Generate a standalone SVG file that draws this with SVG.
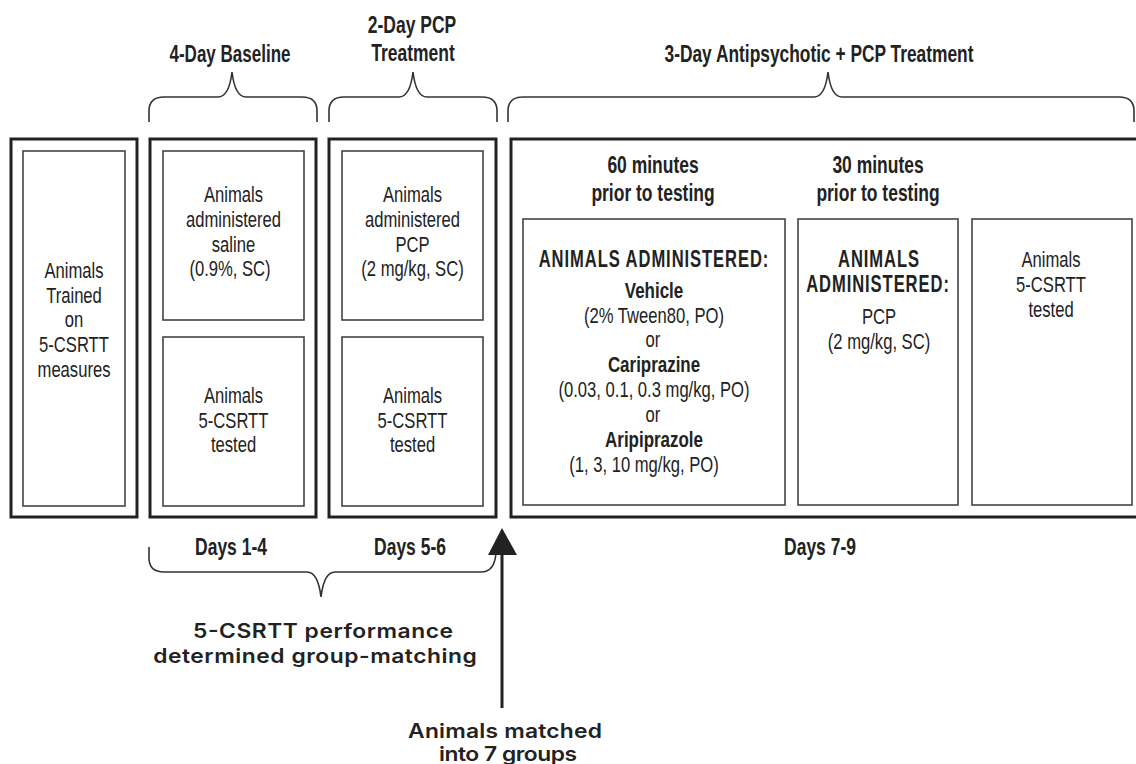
<svg xmlns="http://www.w3.org/2000/svg" width="1136" height="764" viewBox="0 0 1136 764">
<style>
.bg{fill:#fff}
.outer{fill:none;stroke:#222;stroke-width:3}
.inner{fill:none;stroke:#444;stroke-width:1.6}
.brace{fill:none;stroke:#333;stroke-width:1.6}
.t{font-family:"Liberation Sans",Arial,sans-serif;font-size:22px;fill:#222;text-anchor:middle}
.b{font-weight:bold}
.h{font-family:"Liberation Sans",Arial,sans-serif;font-size:23px;font-weight:bold;fill:#222;text-anchor:middle}
.cap{font-family:"Liberation Sans",Arial,sans-serif;font-size:23px;font-weight:bold;fill:#222;text-anchor:middle;letter-spacing:1.3px}
.g{font-family:Inter,"Open Sans","Noto Sans",sans-serif;font-size:20px;font-weight:600;fill:#222;text-anchor:middle}
.arrow{stroke:#222;stroke-width:3}
</style>
<rect class="bg" x="0" y="0" width="1136" height="764"/>

<g id="headers">
<text class="h" transform="translate(230,62) scale(0.74,1)">4-Day Baseline</text>
<text class="h" transform="translate(412,33) scale(0.76,1)">2-Day PCP</text>
<text class="h" transform="translate(413,61) scale(0.76,1)">Treatment</text>
<text class="h" transform="translate(819,62) scale(0.755,1)">3-Day Antipsychotic + PCP Treatment</text>
</g>

<g id="braces">
<path class="brace" d="M149,122 V111 Q149,97 164,97 H218 Q229,97 232,72 Q235,97 246,97 H302 Q317,97 317,111 V122"/>
<path class="brace" d="M329,122 V111 Q329,97 344,97 H399 Q410,97 413,72 Q416,97 427,97 H482 Q497,97 497,111 V122"/>
<path class="brace" d="M508,122 V111 Q508,97 523,97 H814 Q825,97 828,72 Q831,97 842,97 H1119 Q1134,97 1134,111 V122"/>
<path class="brace" d="M149,547 V558 Q149,572 164,572 H307 Q318,572 321,597 Q324,572 335,572 H481 Q495,572 496,552"/>
</g>

<g id="n-training">
<rect class="outer" x="11" y="139" width="126" height="378"/>
<rect class="inner" x="23" y="151" width="102" height="355"/>
<text class="t" transform="translate(74,278) scale(0.755,1)">Animals</text>
<text class="t" transform="translate(74,303) scale(0.755,1)">Trained</text>
<text class="t" transform="translate(74,327) scale(0.755,1)">on</text>
<text class="t" transform="translate(74,352) scale(0.755,1)">5-CSRTT</text>
<text class="t" transform="translate(74,377) scale(0.755,1)">measures</text>
</g>

<g id="n-baseline">
<rect class="outer" x="150" y="139" width="166" height="378"/>
<rect class="inner" x="163" y="151" width="141" height="169"/>
<text class="t" transform="translate(233.5,202) scale(0.755,1)">Animals</text>
<text class="t" transform="translate(233.5,227) scale(0.755,1)">administered</text>
<text class="t" transform="translate(233.5,252) scale(0.755,1)">saline</text>
<text class="t" transform="translate(230,276) scale(0.755,1)">(0.9%, SC)</text>
<rect class="inner" x="163" y="337" width="141" height="169"/>
<text class="t" transform="translate(233.5,403) scale(0.755,1)">Animals</text>
<text class="t" transform="translate(233.5,428) scale(0.755,1)">5-CSRTT</text>
<text class="t" transform="translate(233.5,452) scale(0.755,1)">tested</text>
</g>

<g id="n-pcp">
<rect class="outer" x="329" y="139" width="167" height="378"/>
<rect class="inner" x="342" y="151" width="141" height="169"/>
<text class="t" transform="translate(412.5,202) scale(0.755,1)">Animals</text>
<text class="t" transform="translate(412.5,227) scale(0.755,1)">administered</text>
<text class="t" transform="translate(412.5,252) scale(0.755,1)">PCP</text>
<text class="t" transform="translate(412.5,276) scale(0.755,1)">(2 mg/kg, SC)</text>
<rect class="inner" x="342" y="337" width="141" height="169"/>
<text class="t" transform="translate(412.5,403) scale(0.755,1)">Animals</text>
<text class="t" transform="translate(412.5,428) scale(0.755,1)">5-CSRTT</text>
<text class="t" transform="translate(412.5,452) scale(0.755,1)">tested</text>
</g>

<g id="n-treatment">
<rect class="outer" x="511" y="139" width="640" height="378"/>
<text class="h" transform="translate(653,173) scale(0.76,1)">60 minutes</text>
<text class="h" transform="translate(653,201) scale(0.76,1)">prior to testing</text>
<text class="h" transform="translate(878,173) scale(0.76,1)">30 minutes</text>
<text class="h" transform="translate(878,201) scale(0.76,1)">prior to testing</text>
</g>

<g id="n-antipsychotic">
<rect class="inner" x="523" y="219" width="262" height="286"/>
<text class="cap" transform="translate(654,267) scale(0.72,1)">ANIMALS ADMINISTERED:</text>
<text class="t b" transform="translate(654,298) scale(0.77,1)">Vehicle</text>
<text class="t" transform="translate(654,323) scale(0.755,1)">(2% Tween80, PO)</text>
<text class="t" transform="translate(653,347) scale(0.755,1)">or</text>
<text class="t b" transform="translate(654,372) scale(0.77,1)">Cariprazine</text>
<text class="t" transform="translate(654,397) scale(0.755,1)">(0.03, 0.1, 0.3 mg/kg, PO)</text>
<text class="t" transform="translate(653,422) scale(0.755,1)">or</text>
<text class="t b" transform="translate(654,447) scale(0.77,1)">Aripiprazole</text>
<text class="t" transform="translate(644,472) scale(0.755,1)">(1, 3, 10 mg/kg, PO)</text>
</g>

<g id="n-pcp2">
<rect class="inner" x="798" y="219" width="160" height="286"/>
<text class="cap" transform="translate(879,267) scale(0.72,1)">ANIMALS</text>
<text class="cap" transform="translate(878,292) scale(0.72,1)">ADMINISTERED:</text>
<text class="t" transform="translate(879,324) scale(0.755,1)">PCP</text>
<text class="t" transform="translate(879,349) scale(0.755,1)">(2 mg/kg, SC)</text>
</g>

<g id="n-tested">
<rect class="inner" x="972" y="219" width="160" height="286"/>
<text class="t" transform="translate(1051,267) scale(0.755,1)">Animals</text>
<text class="t" transform="translate(1051,292) scale(0.755,1)">5-CSRTT</text>
<text class="t" transform="translate(1051,317) scale(0.755,1)">tested</text>
</g>

<g id="labels">
<text class="h" transform="translate(231,555) scale(0.76,1)">Days 1-4</text>
<text class="h" transform="translate(410,555) scale(0.76,1)">Days 5-6</text>
<text class="h" transform="translate(820,555) scale(0.76,1)">Days 7-9</text>
<text class="g" transform="translate(323,638) scale(1.14,1)" textLength="228" lengthAdjust="spacing">5-CSRTT performance</text>
<text class="g" transform="translate(315,663) scale(1.14,1)" textLength="284" lengthAdjust="spacing">determined group-matching</text>
<text class="g" transform="translate(505,738) scale(1.14,1)" textLength="170" lengthAdjust="spacing">Animals matched</text>
<text class="g" transform="translate(508,761) scale(1.14,1)" textLength="121" lengthAdjust="spacing">into 7 groups</text>
</g>

<g id="connectors">
<line class="arrow" x1="502" y1="708" x2="502" y2="550"/>
<polygon points="502,528 488,555 517,555" fill="#222"/>
</g>
</svg>
